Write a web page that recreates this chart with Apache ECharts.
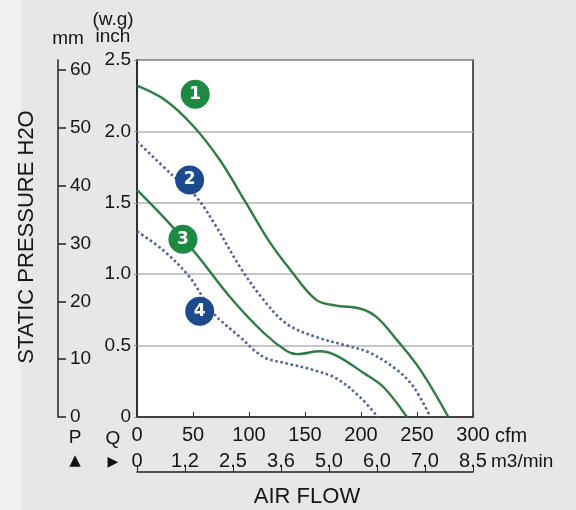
<!DOCTYPE html>
<html>
<head>
<meta charset="utf-8">
<script src="https://cdn.jsdelivr.net/npm/echarts@6/dist/echarts.min.js"></script>
<style>
  html, body { margin: 0; padding: 0; background: #e7e7e7; }
  #chart { width: 576px; height: 510px; }
</style>
</head>
<body>
<div id="chart"></div>
<script>
// fan curves: air flow (cfm) / static pressure (inch H2O)
const flow1 = [0, 25, 50, 74, 98, 118, 137, 160, 178, 199, 214, 232, 253, 278]
const pres1 = [2.32, 2.22, 2.04, 1.80, 1.49, 1.23, 1.03, 0.82, 0.78, 0.76, 0.70, 0.54, 0.33, 0]
const flow2 = [0, 32, 53, 71, 92, 113, 134, 160, 187, 208, 232, 247, 262]
const pres2 = [1.93, 1.69, 1.54, 1.33, 1.05, 0.82, 0.65, 0.56, 0.50, 0.45, 0.33, 0.21, 0]
const flow3 = [0, 26, 53, 83, 113, 134, 143, 163, 178, 202, 220, 241]
const pres3 = [1.59, 1.38, 1.14, 0.84, 0.59, 0.46, 0.44, 0.46, 0.43, 0.31, 0.21, 0]
const flow4 = [0, 23, 47, 68, 92, 113, 134, 157, 178, 199, 215]
const pres4 = [1.30, 1.17, 0.98, 0.73, 0.56, 0.42, 0.375, 0.33, 0.27, 0.14, 0]

// numbered badges on the curves
const badgeNames = ['1', '2', '3', '4']
const badgeFlow = [52, 47, 41, 56]
const badgePres = [2.26, 1.66, 1.245, 0.74]

// tick labels
const m3Labels = ['0', '1.2', '2.5', '3.6', '5.0', '6.0', '7.0', '8.5']
const mmTicks = [0, 10, 20, 30, 40, 50, 60]

const GREEN = '#2f7d45'
const BLUE = '#55649c'
const BADGE_GREEN = '#1c8a42'
const BADGE_BLUE = '#1d4a8d'
const FONT = 'Liberation Sans'
const TXT = '#151515'

const pair = (xs, ys) => xs.map((x, i) => [x, ys[i]])

const curve = (xs, ys, color, dotted) => ({
  type: 'line',
  data: pair(xs, ys),
  smooth: 0.35,
  symbol: 'none',
  xAxisIndex: 0,
  yAxisIndex: 0,
  lineStyle: { color: color, width: dotted ? 2.6 : 2.4, type: dotted ? 'dotted' : 'solid' }
})

const myChart = echarts.init(document.getElementById('chart'))
myChart.setOption({
  backgroundColor: '#e7e7e7',
  animation: false,
  textStyle: { fontFamily: FONT },
  grid: {
    show: true,
    left: 137,
    right: 103,
    top: 60,
    bottom: 93,
    backgroundColor: '#fff',
    borderColor: '#222',
    borderWidth: 1.5
  },
  xAxis: [
    {
      type: 'value',
      min: 0,
      max: 300,
      interval: 50,
      position: 'bottom',
      axisLine: { onZero: false, lineStyle: { color: '#222', width: 1.5 } },
      axisTick: { inside: true, length: 5, lineStyle: { color: '#333' } },
      axisLabel: { color: TXT, fontSize: 20, margin: 8 },
      splitLine: { show: false }
    },
    {
      type: 'category',
      data: m3Labels,
      boundaryGap: false,
      position: 'bottom',
      offset: 55,
      axisLine: { onZero: false, lineStyle: { color: '#222', width: 1.5 } },
      axisTick: { inside: true, length: 7, lineStyle: { color: '#222' } },
      axisLabel: { inside: true, color: TXT, fontSize: 20, margin: 1, interval: 0 },
      splitLine: { show: false }
    }
  ],
  yAxis: [
    {
      type: 'value',
      min: 0,
      max: 2.5,
      interval: 0.5,
      position: 'left',
      axisLine: { show: true, onZero: false, lineStyle: { color: '#222', width: 1.5 } },
      axisTick: { show: true, length: 3, lineStyle: { color: '#999' } },
      axisLabel: {
        color: TXT,
        fontSize: 19,
        margin: 6,
        formatter: (v) => (v === 0 ? '0' : v.toFixed(1))
      },
      splitLine: { lineStyle: { color: '#b4b4b4', width: 1.5 } }
    },
    {
      type: 'value',
      min: 0,
      max: 61.7,
      position: 'left',
      offset: 79,
      axisLine: { show: true, onZero: false, lineStyle: { color: '#222', width: 1.5 } },
      axisTick: { show: true, inside: true, length: 8, customValues: mmTicks, lineStyle: { color: '#222', width: 1.5 } },
      axisLabel: { inside: true, color: TXT, fontSize: 19, margin: 12, customValues: mmTicks },
      splitLine: { show: false }
    }
  ],
  graphic: [
    { type: 'rect', left: 0, top: 0, shape: { width: 21, height: 510 }, style: { fill: '#eff0f2' } },
    { type: 'text', x: 68, y: 39, style: { text: 'mm', font: '19px ' + FONT, fill: TXT, align: 'center', verticalAlign: 'middle' } },
    { type: 'text', x: 113, y: 20, style: { text: '(w.g)', font: '19px ' + FONT, fill: TXT, align: 'center', verticalAlign: 'middle' } },
    { type: 'text', x: 113, y: 37, style: { text: 'inch', font: '19px ' + FONT, fill: TXT, align: 'center', verticalAlign: 'middle' } },
    {
      type: 'text', x: 27, y: 237, rotation: Math.PI / 2,
      style: { text: 'STATIC PRESSURE H2O', font: '22px ' + FONT, fill: TXT, align: 'center', verticalAlign: 'middle' }
    },
    { type: 'text', x: 307, y: 497, style: { text: 'AIR FLOW', font: '22px ' + FONT, fill: TXT, align: 'center', verticalAlign: 'middle' } },
    { type: 'text', x: 75, y: 438, style: { text: 'P', font: '19px ' + FONT, fill: TXT, align: 'center', verticalAlign: 'middle' } },
    { type: 'text', x: 75, y: 461, style: { text: '▲', font: '15px DejaVu Sans', fill: '#111', align: 'center', verticalAlign: 'middle' } },
    { type: 'text', x: 113, y: 439, style: { text: 'Q', font: '19px ' + FONT, fill: TXT, align: 'center', verticalAlign: 'middle' } },
    { type: 'text', x: 113, y: 462, style: { text: '▶', font: '14px DejaVu Sans', fill: '#111', align: 'center', verticalAlign: 'middle' } },
    { type: 'text', x: 495, y: 436, style: { text: 'cfm', font: '20px ' + FONT, fill: TXT, align: 'left', verticalAlign: 'middle' } },
    { type: 'text', x: 491, y: 462, style: { text: 'm3/min', font: '19px ' + FONT, fill: TXT, align: 'left', verticalAlign: 'middle' } }
  ],
  series: [
    curve(flow1, pres1, GREEN, false),
    curve(flow2, pres2, BLUE, true),
    curve(flow3, pres3, GREEN, false),
    curve(flow4, pres4, BLUE, true),
    {
      type: 'scatter',
      xAxisIndex: 0,
      yAxisIndex: 0,
      z: 5,
      symbolSize: 29,
      data: badgeNames.map((n, i) => ({
        value: [badgeFlow[i], badgePres[i]],
        name: n,
        itemStyle: { color: i % 2 === 0 ? BADGE_GREEN : BADGE_BLUE, opacity: 1 }
      })),
      label: {
        show: true,
        position: 'inside',
        formatter: (p) => p.name,
        color: '#fff',
        fontSize: 17,
        fontWeight: 'bold',
        fontFamily: 'DejaVu Sans'
      }
    }
  ]
})
</script>
</body>
</html>
